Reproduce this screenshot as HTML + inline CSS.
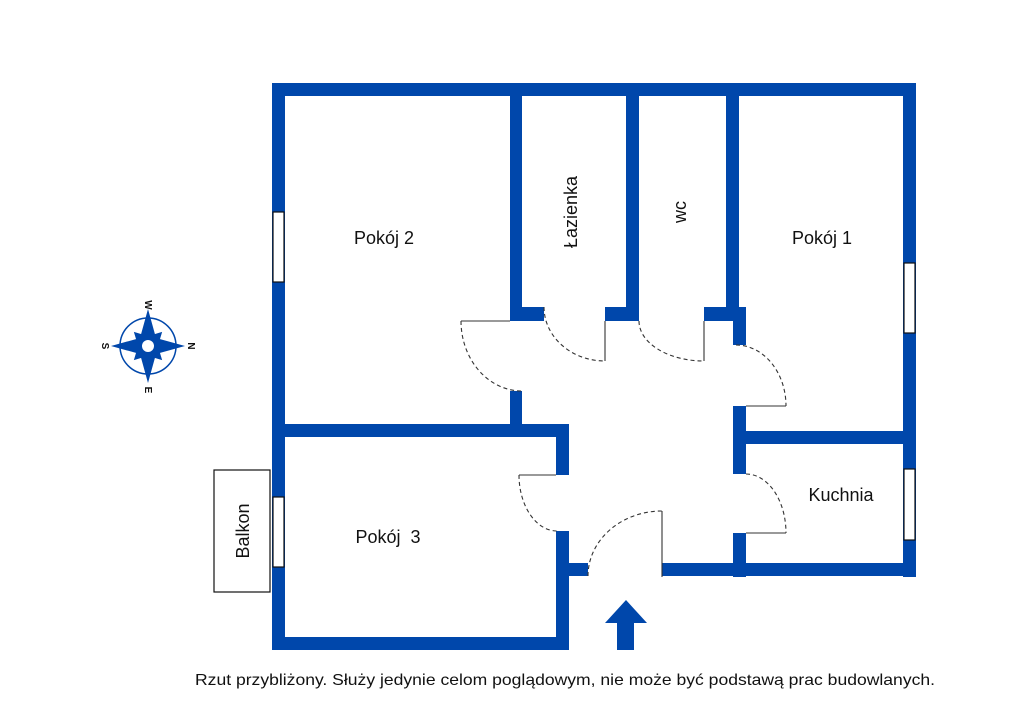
<!DOCTYPE html>
<html><head><meta charset="utf-8"><style>
html,body{margin:0;padding:0;background:#fff;width:1024px;height:724px;overflow:hidden}
svg{display:block}
text{font-family:"Liberation Sans",sans-serif;fill:#111}
</style></head><body>
<svg width="1024" height="724" viewBox="0 0 1024 724" xmlns="http://www.w3.org/2000/svg">
<g fill="#0047AB">
<rect x="272" y="83" width="644" height="13"/>
<rect x="272" y="83" width="13" height="567"/>
<rect x="903" y="83" width="13" height="494"/>
<rect x="272" y="637" width="297" height="13"/>
<rect x="510" y="83" width="12" height="238"/>
<rect x="522" y="307" width="22" height="14"/>
<rect x="626" y="83" width="13" height="238"/>
<rect x="605" y="307" width="34" height="14"/>
<rect x="726" y="83" width="13" height="238"/>
<rect x="704" y="307" width="42" height="14"/>
<rect x="733" y="307" width="13" height="38"/>
<rect x="510" y="391" width="12" height="40"/>
<rect x="272" y="424" width="297" height="13"/>
<rect x="556" y="424" width="13" height="51"/>
<rect x="556" y="531" width="13" height="119"/>
<rect x="569" y="563" width="19" height="13"/>
<rect x="733" y="406" width="13" height="68"/>
<rect x="733" y="431" width="183" height="13"/>
<rect x="733" y="533" width="13" height="44"/>
<rect x="662" y="563" width="254" height="13"/>
<polygon points="626,600 647,623 634,623 634,650 617,650 617,623 605,623"/>
</g>
<g fill="#fff" stroke="#111" stroke-width="1.2">
<rect x="273" y="212" width="11" height="70"/>
<rect x="904" y="263" width="11" height="70"/>
<rect x="904" y="469" width="11" height="71"/>
<rect x="273" y="497" width="11" height="70"/>
<rect x="214" y="470" width="56" height="122"/>
</g>
<g fill="none" stroke="#333" stroke-width="1.1">
<line x1="461" y1="321" x2="510" y2="321"/>
<path d="M461,321 A61,70 0 0 0 522,391" stroke-dasharray="4,3"/>
<line x1="605" y1="321" x2="605" y2="361"/>
<path d="M544,307 A61,54 0 0 0 605,361" stroke-dasharray="4,3"/>
<line x1="704" y1="321" x2="704" y2="361"/>
<path d="M639,321 A65,40 0 0 0 704,361" stroke-dasharray="4,3"/>
<line x1="746" y1="406" x2="786" y2="406"/>
<path d="M736,345 A50,61 0 0 1 786,406" stroke-dasharray="4,3"/>
<line x1="519" y1="475" x2="556" y2="475"/>
<path d="M519,475 A38,56 0 0 0 557,531" stroke-dasharray="4,3"/>
<line x1="662" y1="511" x2="662" y2="577"/>
<path d="M588,576 A74,65 0 0 1 662,511" stroke-dasharray="4,3"/>
<line x1="746" y1="533" x2="786" y2="533"/>
<path d="M746,474 A40,59 0 0 1 786,533" stroke-dasharray="4,3"/>
</g>
<g font-size="18">
<text x="384" y="244" text-anchor="middle">Pokój 2</text>
<text x="822" y="244" text-anchor="middle">Pokój 1</text>
<text x="841" y="501" text-anchor="middle">Kuchnia</text>
<text x="388" y="543" text-anchor="middle" xml:space="preserve">Pokój  3</text>
<text transform="translate(577,212) rotate(-90)" text-anchor="middle">Łazienka</text>
<text transform="translate(686,212) rotate(-90)" text-anchor="middle">wc</text>
<text transform="translate(249,531) rotate(-90)" text-anchor="middle">Balkon</text>
</g>
<text x="195" y="685" font-size="16" textLength="740" lengthAdjust="spacingAndGlyphs">Rzut przybliżony. Służy jedynie celom poglądowym, nie może być podstawą prac budowlanych.</text>
<g transform="translate(148,346)" fill="#0047AB">
<circle r="28" fill="none" stroke="#0047AB" stroke-width="1.5"/>
<polygon points="0,-20 7,-7 20,0 7,7 0,20 -7,7 -20,0 -7,-7" transform="rotate(45)"/>
<polygon points="0,-37 8,-8 37,0 8,8 0,37 -8,8 -37,0 -8,-8"/>
<circle r="6" fill="#fff"/>
<text x="0" y="-38" font-size="10" font-weight="bold" text-anchor="middle" fill="#0047AB" transform="rotate(90 0 -41)">W</text>
<text x="0" y="47" font-size="10" font-weight="bold" text-anchor="middle" fill="#0047AB" transform="rotate(90 0 44)">E</text>
<text x="-43" y="3" font-size="10" font-weight="bold" text-anchor="middle" fill="#0047AB" transform="rotate(90 -43 0)">S</text>
<text x="43" y="3" font-size="10" font-weight="bold" text-anchor="middle" fill="#0047AB" transform="rotate(90 43 0)">N</text>
</g>
</svg>
</body></html>
